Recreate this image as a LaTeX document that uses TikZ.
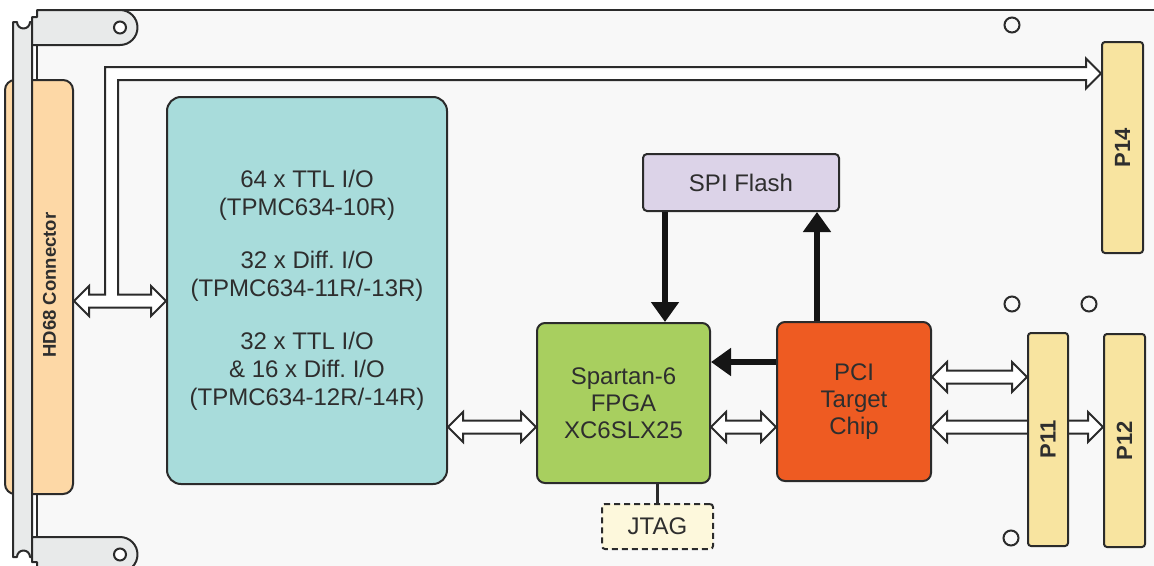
\documentclass[tikz,border=0pt]{standalone}
\usepackage{fontspec}
\setmainfont{Liberation Sans}
\usetikzlibrary{arrows.meta,calc}
\frenchspacing
\definecolor{linec}{HTML}{2B2B2B}
\definecolor{txtc}{HTML}{2E2E2E}
\definecolor{boardbg}{HTML}{F8F8F8}
\definecolor{panelc}{HTML}{E8EAEA}
\definecolor{peach}{HTML}{FDD8A6}
\definecolor{tealc}{HTML}{A8DCDB}
\definecolor{greenc}{HTML}{A8CF5F}
\definecolor{orangec}{HTML}{EE5B22}
\definecolor{lavc}{HTML}{DCD3E8}
\definecolor{pyel}{HTML}{F8E4A0}
\definecolor{jtagc}{HTML}{FDF8DC}
\definecolor{arrowc}{HTML}{151515}
\newcommand\hollowdbl[2]{%
 \filldraw[hollow] let \p1=(#1), \p2=(#2) in
 (\x1,\y1) -- (\x1+15pt,\y1+15pt) -- (\x1+15pt,\y1+6.5pt) -- (\x2-15pt,\y1+6.5pt) -- (\x2-15pt,\y1+15pt) -- (\x2,\y1) -- (\x2-15pt,\y1-15pt) -- (\x2-15pt,\y1-6.5pt) -- (\x1+15pt,\y1-6.5pt) -- (\x1+15pt,\y1-15pt) -- cycle;}
\tikzset{
 box/.style={draw=linec, line width=2pt, inner sep=0pt, text=txtc, font=\fontsize{24}{27}\selectfont, align=center},
 hollow/.style={draw=linec, fill=white, line width=2pt, line join=miter},
 thickarr/.style={draw=arrowc, line width=5.5pt, -{Triangle[length=20pt,width=27pt]}},
 plabel/.style={rotate=90, font=\bfseries\fontsize{22}{22}\selectfont, text=txtc, inner sep=0pt},
 hole/.style={circle, draw=linec, line width=2pt, fill=boardbg, minimum size=15pt, inner sep=0pt},
 earhole/.style={circle, draw=linec, line width=2pt, fill=white, minimum size=12pt, inner sep=0pt},
 panel/.style={draw=linec, line width=2pt, fill=panelc, line join=round},
 edge/.style={draw=linec, line width=2pt},
}
\begin{document}
\begin{tikzpicture}[x=1pt,y=-1pt]
\useasboundingbox (0,0) rectangle (1154,565);
\clip (0,0) rectangle (1154,565);
\fill[white] (0,0) rectangle (1154,565);
% board
\fill[boardbg] (37,10) rectangle (1170,590);
\draw[edge] (1170,10) -- (37,10);
\draw[edge] (37,45) -- (37,537);
% HD68 connector
\node[box, fill=peach, minimum width=68pt, minimum height=414pt, rounded corners=10pt] (hd) at (39,287) {};
% front panel strip
\filldraw[panel] (13,22) -- (17,22) arc[start angle=180, end angle=0, radius=6.5] -- (32,22) -- (32,557) -- (30,557) arc[start angle=0, end angle=-180, radius=6.5] -- (13,557) -- cycle;
% ears
\filldraw[panel] (32,45) -- (32,17) -- (37,17) -- (37,10) -- (120,10) arc[start angle=-90, end angle=90, radius=17.5] -- cycle;
\filldraw[panel] (32,537) -- (120,537) arc[start angle=-90, end angle=90, radius=17.5] -- (37,572) -- (37,562) -- (32,562) -- cycle;
\node[earhole] (eh1) at (120,27.5) {};
\node[earhole] (eh2) at (120,554.5) {};
\node[plabel, font=\bfseries\fontsize{18.5}{18.5}\selectfont] (hdlabel) at (49.5,285) {HD68 Connector};
% board holes
\node[hole] (h1) at (1012,25) {};
\node[hole] (h2) at (1012,304) {};
\node[hole] (h3) at (1089,304) {};
\node[hole] (h4) at (1011,538) {};
% blocks
\node[box, fill=tealc, minimum width=280pt, minimum height=387pt, rounded corners=14pt, font=\fontsize{24}{28}\selectfont] (io) at (307,290.5)
 {64 x TTL I/O\\(TPMC634-10R)\\[25pt]32 x Diff. I/O\\(TPMC634-11R/-13R)\\[25pt]32 x TTL I/O\\\& 16 x Diff. I/O\\(TPMC634-12R/-14R)};
\node[box, fill=greenc, minimum width=173pt, minimum height=160pt, rounded corners=8pt] (fpga) at (623.5,403) {Spartan-6\\FPGA\\XC6SLX25};
\node[box, fill=lavc, minimum width=196pt, minimum height=57pt, rounded corners=4pt] (spi) at (741,182.5) {SPI Flash};
\node[box, fill=orangec, minimum width=154pt, minimum height=159pt, rounded corners=8pt] (pci) at (854,401.5) {PCI\\Target\\Chip};
\node[box, fill=jtagc, minimum width=111pt, minimum height=45pt, rounded corners=3pt, dash pattern=on 6pt off 4pt] (jtag) at (657.5,526.5) {JTAG};
\node[box, fill=pyel, minimum width=41pt, minimum height=211pt, rounded corners=3pt] (p14) at (1122.5,147.5) {};
\node[plabel] (p14lbl) at (p14.center) {P14};
\node[box, fill=pyel, minimum width=41pt, minimum height=213pt, rounded corners=3pt] (p12) at (1124.5,440.5) {};
\node[plabel] (p12lbl) at (p12.center) {P12};
% level coordinates
\coordinate (yb1) at (0,427);
\coordinate (yb2) at (0,377);
\coordinate (yh) at (0,301);
\coordinate (yt) at (0,73.5);
\coordinate (xt) at (111.5,0);
\coordinate (xdn) at (665,0);
\coordinate (xup) at (817,0);
\coordinate (ylf) at (0,362);
% hollow bus arrows
\hollowdbl{pci.east |- yb1}{p12.west |- yb1}
\node[box, fill=pyel, minimum width=40pt, minimum height=213pt, rounded corners=3pt] (p11) at (1048,439.5) {};
\node[plabel] (p11lbl) at (p11.center) {P11};
\hollowdbl{pci.east |- yb2}{p11.west |- yb2}
\hollowdbl{io.east |- yb1}{fpga.west |- yb1}
\hollowdbl{fpga.east |- yb1}{pci.west |- yb1}
\filldraw[hollow] let \p1=(hd.east |- yh), \p2=(io.west |- yh), \p3=(p14.west |- yt), \p4=(xt) in
 (\x1,\y1) -- (\x1+15pt,\y1+15pt) -- (\x1+15pt,\y1+6.5pt) -- (\x4-6.5pt,\y1+6.5pt) -- (\x4-6.5pt,\y3+6.5pt)
 -- (\x3-15pt,\y3+6.5pt) -- (\x3-15pt,\y3+15pt) -- (\x3,\y3) -- (\x3-15pt,\y3-15pt) -- (\x3-15pt,\y3-6.5pt)
 -- (\x4+6.5pt,\y3-6.5pt) -- (\x4+6.5pt,\y1+6.5pt) -- (\x2-15pt,\y1+6.5pt) -- (\x2-15pt,\y1+15pt) -- (\x2,\y1)
 -- (\x2-15pt,\y1-15pt) -- (\x2-15pt,\y1-6.5pt) -- (\x1+15pt,\y1-6.5pt) -- (\x1+15pt,\y1-15pt) -- cycle;
% thick arrows
\draw[thickarr] (spi.south -| xdn) -- (fpga.north -| xdn);
\draw[thickarr] (pci.north -| xup) -- (spi.south -| xup);
\draw[thickarr] (pci.west |- ylf) -- (fpga.east |- ylf);
% JTAG link
\draw[edge, line width=2.5pt] (fpga.south -| jtag.north) -- (jtag.north);
\end{tikzpicture}
\end{document}
